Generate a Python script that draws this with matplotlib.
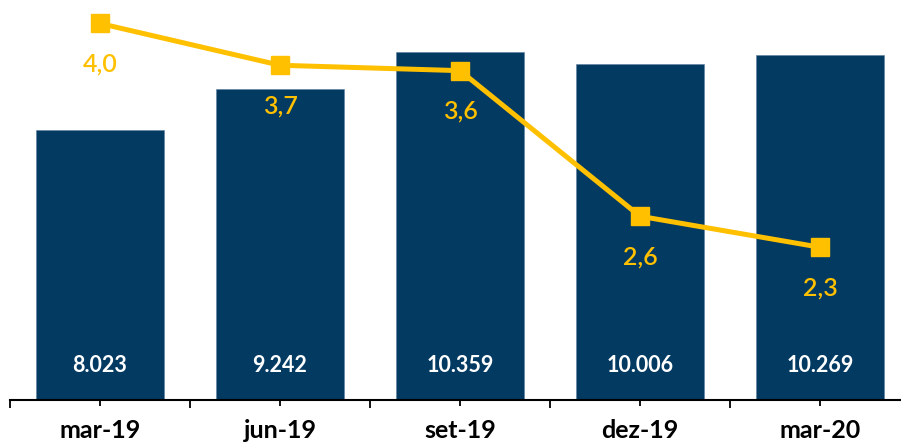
import matplotlib

matplotlib.use("Agg")

import matplotlib.pyplot as plt


PERIODS = ["mar-19", "jun-19", "set-19", "dez-19", "mar-20"]
BAR_VALUES = [8023, 9242, 10359, 10006, 10269]
BAR_LABELS = ["8.023", "9.242", "10.359", "10.006", "10.269"]
# rates; labels show them rounded
LINE_VALUES = [3.99, 3.68, 3.64, 2.56, 2.33]
LINE_LABELS = ["4,0", "3,7", "3,6", "2,6", "2,3"]

NAVY = "#023A62"
GOLD = "#FFC000"
FONT = ["Lato", "DejaVu Sans"]


def main() -> None:
    fig = plt.figure(figsize=(9.01, 4.46), dpi=100)
    fig.patch.set_facecolor("white")
    ax = fig.add_axes([10 / 901, 46 / 446, 900 / 901, 400 / 446])
    xs = list(range(len(PERIODS)))

    ax.bar(xs, BAR_VALUES, width=0.711, color=NAVY, edgecolor="#5B7FA0", linewidth=0.4)
    ax.set_xlim(-0.5, len(PERIODS) - 0.5)
    ax.set_ylim(0, 11905)
    for side in ("left", "right", "top"):
        ax.spines[side].set_visible(False)
    ax.spines["bottom"].set_linewidth(1.5)
    ax.set_yticks([])

    ax.set_xticks([x - 0.5 for x in xs] + [len(PERIODS) - 0.5])
    ax.set_xticklabels([])
    ax.tick_params(axis="x", which="major", length=6, width=1.3, color="black")
    ax.set_xticks(xs, minor=True)
    ax.set_xticklabels(PERIODS, minor=True, family=FONT, fontweight="bold", fontsize=18)
    ax.tick_params(axis="x", which="minor", length=4.5, width=1.3, pad=9, color="black")

    for x, label in zip(xs, BAR_LABELS):
        ax.annotate(label, (x, 0), xytext=(0, 25), textcoords="offset points",
                    ha="center", va="center", color="white", fontsize=15.5,
                    fontweight="bold", family=FONT)

    ax2 = ax.twinx()
    ax2.set_ylim(1.197, 4.164)
    ax2.axis("off")
    ax2.plot(xs, LINE_VALUES, color=GOLD, linewidth=3.6, marker="s",
             markersize=13.5, markerfacecolor=GOLD, markeredgecolor=GOLD)
    for x, v, label in zip(xs, LINE_VALUES, LINE_LABELS):
        ax2.annotate(label, (x, v), xytext=(0, -29), textcoords="offset points",
                     ha="center", va="center", color=GOLD, fontsize=18,
                     fontweight="semibold", family=FONT)

    fig.savefig("out.png", dpi=100, facecolor="white")
    plt.close(fig)


if __name__ == "__main__":
    main()
